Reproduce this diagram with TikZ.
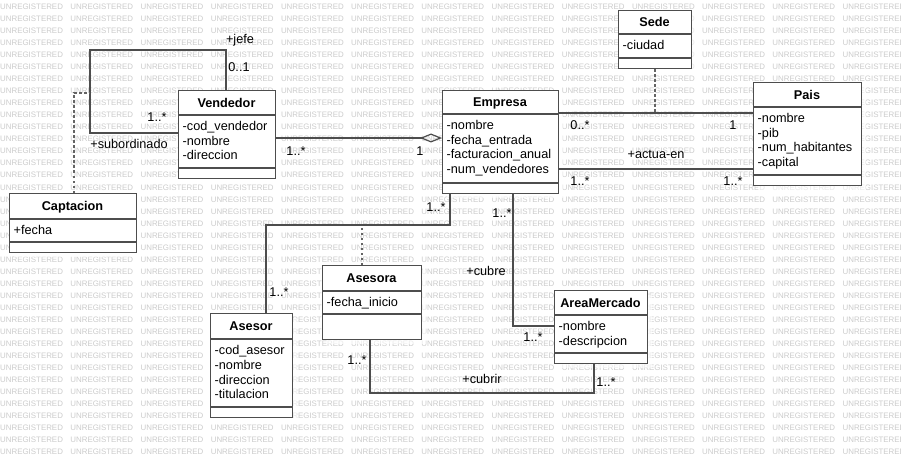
\documentclass[tikz,border=0pt]{standalone}
\usepackage{fontspec}
\setmainfont{Liberation Sans}
\usetikzlibrary{arrows.meta}
\definecolor{wmcol}{RGB}{204,204,204}
\definecolor{linecol}{RGB}{77,77,77}
\definecolor{dotcol}{RGB}{100,100,100}
\tikzset{
  wm/.style={anchor=west, inner sep=0pt, text=wmcol, font=\fontsize{7.9}{8}\selectfont},
  umlbox/.style={draw=linecol, line width=1.2pt, fill=white, inner sep=0pt},
  boxline/.style={draw=linecol, line width=1.2pt},
  clstitle/.style={inner sep=0pt, text height=9.2pt, text depth=0pt, font=\fontsize{12.7}{14}\selectfont\bfseries},
  attr/.style={anchor=west, inner sep=0pt, text height=9.2pt, text depth=0pt, font=\fontsize{12.7}{14}\selectfont},
  lbl/.style={inner sep=0pt, text height=9.2pt, text depth=0pt, font=\fontsize{12.7}{14}\selectfont},
  assoc/.style={draw=linecol, line width=1.2pt},
  dotl/.style={draw=dotcol, line width=1.2pt, dash pattern=on 2.5pt off 2.5pt},
  shadowbox/.style={fill=white, opacity=0.6, draw=none}
}
\newcommand\umlcls[9]{%
  \fill[shadowbox] ({#2+5},{#3+5}) rectangle ({#4+5},{#5+5});
  \node[umlbox, anchor=north west, minimum width={(#4-#2)*1pt}, minimum height={(#5-#3)*1pt}] (#1) at (#2,#3) {};
  \draw[boxline] (#2,#7) -- (#4,#7);
  \draw[boxline] (#2,#8) -- (#4,#8);
  \node[clstitle] (#1-t) at ({(#2+#4)/2},{(#3+#7)/2}) {#6};
  \foreach \a [count=\i from 0] in {#9}
    \node[attr] (#1-a\i) at ({#2+4.5},{#7+11+14.7*\i}) {\a};
}
\begin{document}
\begin{tikzpicture}[x=1pt, y=-1pt]
\useasboundingbox (0,0) rectangle (901,457);
\fill[white] (0,0) rectangle (901,457);
% watermark
\foreach \r in {0,...,37}
  \foreach \c in {0,...,12}
    \node[wm] (wm-\r-\c) at ({\c*70.2},{7+\r*12.02}) {UNREGISTERED};

% classes
\umlcls{vend}{178}{90}{275}{178}{Vendedor}{115}{168}{-cod\_vendedor,-nombre,-direccion}
\umlcls{capt}{9}{193}{136}{252}{Captacion}{219}{242}{+fecha}
\umlcls{emp}{442}{90}{558}{193}{Empresa}{114}{183}{-nombre,-fecha\_entrada,-facturacion\_anual,-num\_vendedores}
\umlcls{sede}{618}{10}{691}{68}{Sede}{34}{58}{-ciudad}
\umlcls{pais}{753}{82}{861}{185}{Pais}{107}{175}{-nombre,-pib,-num\_habitantes,-capital}
\umlcls{ases}{210}{313}{292}{417}{Asesor}{339}{407}{-cod\_asesor,-nombre,-direccion,-titulacion}
\umlcls{asra}{322}{265}{421}{339}{Asesora}{291}{314}{-fecha\_inicio}
\umlcls{area}{554}{290}{647}{363}{AreaMercado}{315}{353}{-nombre,-descripcion}

% bend points
\coordinate (l1) at (226,50);
\coordinate (l2) at (90,50);
\coordinate (l3) at (90,133);
\coordinate (d1) at (74,93);
\coordinate (ag) at (0,138);
\coordinate (ep1) at (0,113);
\coordinate (ep2) at (0,169);
\coordinate (sd) at (655,113);
\coordinate (b1) at (450,225);
\coordinate (p1) at (266,225);
\coordinate (ad) at (362,225);
\coordinate (c1) at (513,326);
\coordinate (e1) at (370,393);
\coordinate (e2) at (594,393);

% connectors
\draw[assoc] (vend.north -| l1) -- (l1) -- (l2) -- (l3) -- (l3 -| vend.west);
\draw[dotl] (capt.north -| d1) -- (d1) -- (d1 -| l2);
\draw[assoc, -{Diamond[open, length=22pt, width=9pt, line width=1.2pt]}] (vend.east |- ag) -- (emp.west |- ag);
\draw[assoc] (emp.east |- ep1) -- (pais.west |- ep1);
\draw[dotl] (sede.south -| sd) -- (sd);
\draw[assoc] (emp.east |- ep2) -- (pais.west |- ep2);
\draw[assoc] (emp.south -| b1) -- (b1) -- (p1) -- (p1 |- ases.north);
\draw[dotl] (asra.north -| ad) -- (ad);
\draw[assoc] (emp.south -| c1) -- (c1) -- (c1 -| area.west);
\draw[assoc] (asra.south -| e1) -- (e1) -- (e2) -- (e2 |- area.south);

% labels
\node[lbl] (n1) at (240,39) {+jefe};
\node[lbl] (n2) at (239,67) {0..1};
\node[lbl] (n3) at (157,117) {1..*};
\node[lbl] (n4) at (129,144) {+subordinado};
\node[lbl] (n5) at (296,151) {1..*};
\node[lbl] (n6) at (420,151) {1};
\node[lbl] (n7) at (580,125) {0..*};
\node[lbl] (n8) at (733,125) {1};
\node[lbl] (n9) at (656,154) {+actua-en};
\node[lbl] (n10) at (580,181) {1..*};
\node[lbl] (n11) at (733,181) {1..*};
\node[lbl] (n12) at (436,207) {1..*};
\node[lbl] (n13) at (279,292) {1..*};
\node[lbl] (n14) at (502,213) {1..*};
\node[lbl] (n15) at (486,271) {+cubre};
\node[lbl] (n16) at (533,337) {1..*};
\node[lbl] (n17) at (357,360) {1..*};
\node[lbl] (n18) at (482,379) {+cubrir};
\node[lbl] (n19) at (606,382) {1..*};
\end{tikzpicture}
\end{document}
